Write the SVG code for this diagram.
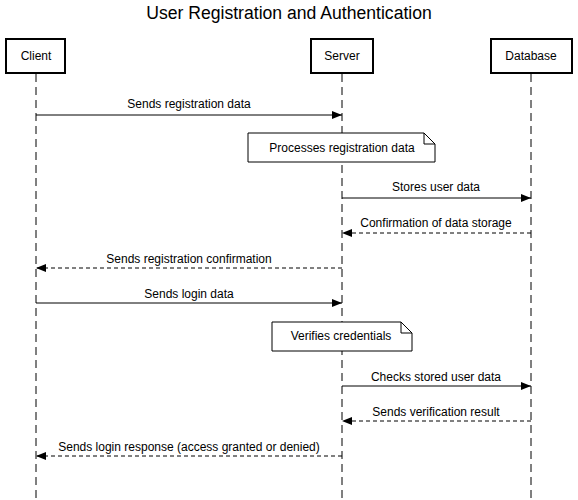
<svg xmlns="http://www.w3.org/2000/svg" width="578" height="500" viewBox="0 0 578 500">
<style>
text{font-family:"Liberation Sans",Arial,sans-serif;fill:#000}
.t{font-size:17.6px;text-anchor:middle}
.lbl{font-size:12px;text-anchor:middle}
.box{fill:#fff;stroke:#000;stroke-width:2}
.life{stroke:#000;stroke-width:1;stroke-dasharray:8 5;fill:none}
.msg{stroke:#000;stroke-width:1;fill:none}
.ret{stroke:#000;stroke-width:1;fill:none;stroke-dasharray:4 3}
.note{fill:#fff;stroke:#000;stroke-width:1}
</style>
<defs>
<marker id="ah" viewBox="0 0 10 10" refX="10" refY="5" markerWidth="10" markerHeight="10" markerUnits="userSpaceOnUse" orient="auto">
<path d="M0,1 L10,5 L0,9 z" fill="#000"/>
</marker>
</defs>
<rect width="578" height="500" fill="#fff"/>
<text class="t" x="289" y="19">User Registration and Authentication</text>
<g id="lifelines">
<line class="life" x1="36" y1="74" x2="36" y2="500"/>
<line class="life" x1="342" y1="74" x2="342" y2="500"/>
<line class="life" x1="531" y1="74" x2="531" y2="500"/>
</g>
<g id="client"><rect class="box" x="6" y="39" width="59" height="34"/><text class="lbl" x="36" y="60">Client</text></g>
<g id="server"><rect class="box" x="311" y="39" width="62" height="34"/><text class="lbl" x="342" y="60">Server</text></g>
<g id="database"><rect class="box" x="491" y="39" width="81" height="34"/><text class="lbl" x="531" y="60">Database</text></g>
<g id="note1"><path class="note" d="M248,133 H424 L435,144 V162 H248 Z M424,133 V144 H435"/><text class="lbl" x="342" y="152">Processes registration data</text></g>
<g id="note2"><path class="note" d="M272,322 H401 L412,333 V351 H272 Z M401,322 V333 H412"/><text class="lbl" x="341" y="340">Verifies credentials</text></g>
<g id="connectors">
<line class="msg" x1="36" y1="115" x2="342" y2="115" marker-end="url(#ah)"/>
<text class="lbl" x="189" y="108">Sends registration data</text>
<line class="msg" x1="342" y1="198" x2="531" y2="198" marker-end="url(#ah)"/>
<text class="lbl" x="436" y="191">Stores user data</text>
<line class="ret" x1="531" y1="233" x2="342" y2="233" marker-end="url(#ah)"/>
<text class="lbl" x="436" y="227">Confirmation of data storage</text>
<line class="ret" x1="342" y1="268" x2="36" y2="268" marker-end="url(#ah)"/>
<text class="lbl" x="189" y="263">Sends registration confirmation</text>
<line class="msg" x1="36" y1="303" x2="342" y2="303" marker-end="url(#ah)"/>
<text class="lbl" x="189" y="298">Sends login data</text>
<line class="msg" x1="342" y1="386" x2="531" y2="386" marker-end="url(#ah)"/>
<text class="lbl" x="436" y="381">Checks stored user data</text>
<line class="ret" x1="531" y1="421" x2="342" y2="421" marker-end="url(#ah)"/>
<text class="lbl" x="436" y="416">Sends verification result</text>
<line class="ret" x1="342" y1="456" x2="36" y2="456" marker-end="url(#ah)"/>
<text class="lbl" x="189" y="451">Sends login response (access granted or denied)</text>
</g>
</svg>
